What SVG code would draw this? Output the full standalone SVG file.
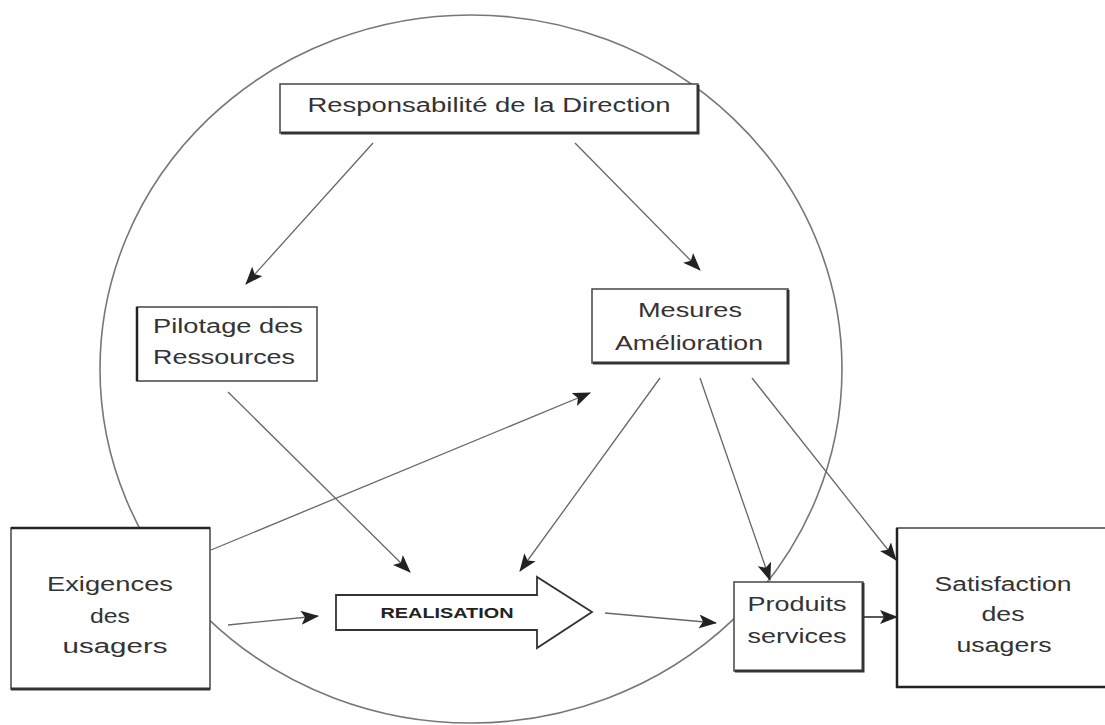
<svg xmlns="http://www.w3.org/2000/svg" width="1105" height="725" viewBox="0 0 1105 725">
<style>
.box{fill:#fff;stroke:#444;stroke-width:1.5}
.sh{fill:none;stroke:#333;stroke-width:3}
.t{font-family:"Liberation Sans",Arial,sans-serif;font-size:20px;fill:#333;text-anchor:middle}
.c{fill:none;stroke:#666;stroke-width:1.3}
.ring{fill:none;stroke:#777;stroke-width:1.6}
</style>
<defs>
<marker id="ah" markerUnits="userSpaceOnUse" markerWidth="18" markerHeight="14" viewBox="0 0 18 14" refX="17" refY="7" orient="auto">
<path d="M0,0 L18,7 L0,14 L4,7 Z" fill="#222"/>
</marker>
</defs>
<rect width="1105" height="725" fill="#fff"/>
<ellipse class="ring" cx="471" cy="369" rx="371" ry="354"/>
<g id="connectors">
<line class="c" x1="373" y1="143" x2="246" y2="284" marker-end="url(#ah)"/>
<line class="c" x1="575" y1="143" x2="700" y2="270" marker-end="url(#ah)"/>
<line class="c" x1="228" y1="392" x2="410" y2="572" marker-end="url(#ah)"/>
<line class="c" x1="660" y1="378" x2="520" y2="571" marker-end="url(#ah)"/>
<line class="c" x1="211" y1="550" x2="590" y2="393" marker-end="url(#ah)"/>
<line class="c" x1="228" y1="625" x2="318" y2="616" marker-end="url(#ah)"/>
<line class="c" x1="605" y1="613" x2="716" y2="623" marker-end="url(#ah)"/>
<line class="c" x1="700" y1="378" x2="770" y2="580" marker-end="url(#ah)"/>
<line class="c" x1="752" y1="378" x2="896" y2="560" marker-end="url(#ah)"/>
<line x1="863" y1="617" x2="897" y2="617" stroke="#222" stroke-width="1.6" marker-end="url(#ah)"/>
</g>
<g id="responsabilite">
<rect class="box" x="280" y="84" width="418" height="49"/>
<path class="sh" d="M281,133 H698 V85"/>
<text class="t" x="489" y="112" textLength="363" lengthAdjust="spacingAndGlyphs">Responsabilité de la Direction</text>
</g>
<g id="pilotage">
<rect class="box" x="137" y="307" width="180" height="74"/>
<path d="M137,307 V381" stroke="#222" stroke-width="2.5"/>
<text class="t" x="228" y="333" textLength="150" lengthAdjust="spacingAndGlyphs">Pilotage des</text>
<text class="t" x="224" y="364" textLength="142" lengthAdjust="spacingAndGlyphs">Ressources</text>
</g>
<g id="mesures">
<rect class="box" x="592" y="289" width="196" height="74"/>
<path class="sh" d="M593,363 H788 V290"/>
<text class="t" x="690" y="317" textLength="104" lengthAdjust="spacingAndGlyphs">Mesures</text>
<text class="t" x="689" y="350" textLength="148" lengthAdjust="spacingAndGlyphs">Amélioration</text>
</g>
<g id="exigences">
<rect class="box" x="11" y="528" width="199" height="161"/>
<path class="sh" d="M11,689 H210"/>
<path d="M11,528 H210" stroke="#222" stroke-width="2.5"/>
<text class="t" x="110" y="591" textLength="126" lengthAdjust="spacingAndGlyphs">Exigences</text>
<text class="t" x="110" y="623" textLength="40" lengthAdjust="spacingAndGlyphs">des</text>
<text class="t" x="115" y="653" textLength="105" lengthAdjust="spacingAndGlyphs">usagers</text>
</g>
<g id="realisation">
<path d="M336,595 H537 V577 L592,612 L537,648 V630 H336 Z" fill="#fff" stroke="#333" stroke-width="1.8"/>
<text x="447" y="618" font-family="'Liberation Sans',Arial,sans-serif" font-size="15" font-weight="bold" fill="#222" text-anchor="middle" textLength="133" lengthAdjust="spacingAndGlyphs">REALISATION</text>
</g>
<g id="produits">
<rect class="box" x="734" y="582" width="129" height="89"/>
<path class="sh" d="M735,671 H863 V583"/>
<text class="t" x="797" y="611" textLength="99" lengthAdjust="spacingAndGlyphs">Produits</text>
<text class="t" x="797" y="643" textLength="99" lengthAdjust="spacingAndGlyphs">services</text>
</g>
<g id="satisfaction">
<rect class="box" x="897" y="528" width="220" height="159"/>
<path d="M897,528 V687 H1110" fill="none" stroke="#222" stroke-width="2.5"/>
<text class="t" x="1003" y="591" textLength="137" lengthAdjust="spacingAndGlyphs">Satisfaction</text>
<text class="t" x="1003" y="621" textLength="43" lengthAdjust="spacingAndGlyphs">des</text>
<text class="t" x="1004" y="652" textLength="95" lengthAdjust="spacingAndGlyphs">usagers</text>
</g>
</svg>
